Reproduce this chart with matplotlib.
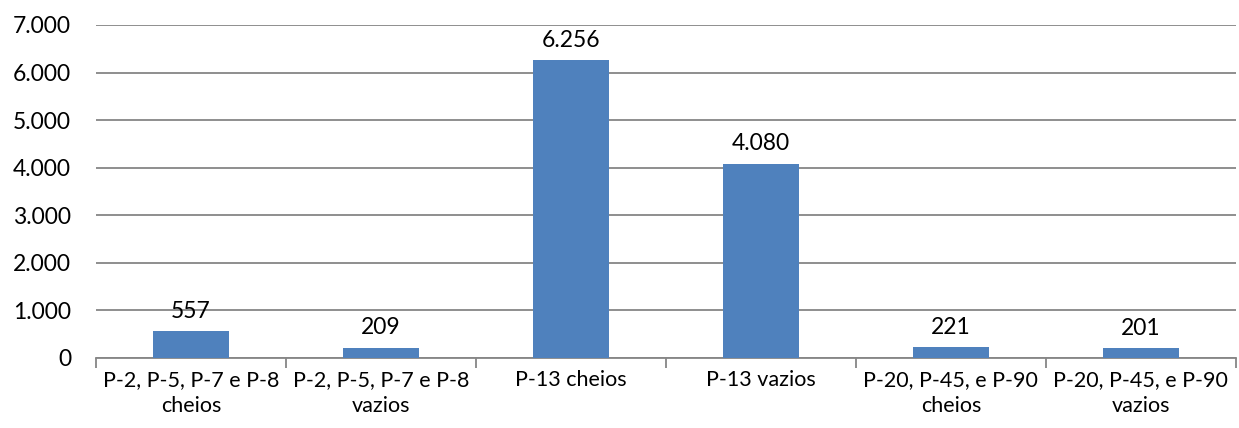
import numpy as np
import matplotlib.pyplot as plt
from matplotlib.ticker import FuncFormatter

plt.rcParams['font.family'] = ['Lato', 'DejaVu Sans']

# fuel volumes per group
categorias = ['P-2, P-5, P-7 e P-8\ncheios', 'P-2, P-5, P-7 e P-8\nvazios',
              'P-13 cheios', 'P-13 vazios',
              'P-20, P-45, e P-90\ncheios', 'P-20, P-45, e P-90\nvazios']
valores = [557, 209, 6256, 4080, 221, 201]
yticks = [0, 1000, 2000, 3000, 4000, 5000, 6000, 7000]


def milhar(v):
    return f'{int(v):,}'.replace(',', '.')


fig = plt.figure(figsize=(12.39, 4.28), dpi=100)
ax = fig.add_axes([0.0775, 0.1636, 0.92, 0.778])

x = np.arange(len(categorias))
ax.bar(x, valores, width=0.4, color='#4F81BD', zorder=3)

for xi, v in zip(x, valores):
    ax.annotate(milhar(v), (xi, v), xytext=(0, 7), textcoords='offset points',
                ha='center', va='bottom', fontsize=16.5, color='black')

ax.set_xlim(-0.5, len(categorias) - 0.5)
ax.set_ylim(0, 7000)
ax.set_yticks(yticks)
ax.yaxis.set_major_formatter(FuncFormatter(lambda v, p: milhar(v)))
ax.set_xticks(x)
ax.set_xticklabels(categorias, fontsize=15.5, linespacing=1.35)
ax.set_xticks(np.arange(-0.5, len(categorias)), minor=True)

ax.grid(axis='y', color='#868686', linewidth=1.3, zorder=0)
for s in ['left', 'right', 'top']:
    ax.spines[s].set_visible(False)
ax.spines['bottom'].set_color('#868686')
ax.spines['bottom'].set_linewidth(1.3)

ax.tick_params(axis='y', length=0, labelsize=16.5, pad=18)
ax.tick_params(axis='x', which='major', length=0, pad=9)
ax.tick_params(axis='x', which='minor', length=7, width=1.3, color='#868686')

fig.savefig('out.png', dpi=100)
